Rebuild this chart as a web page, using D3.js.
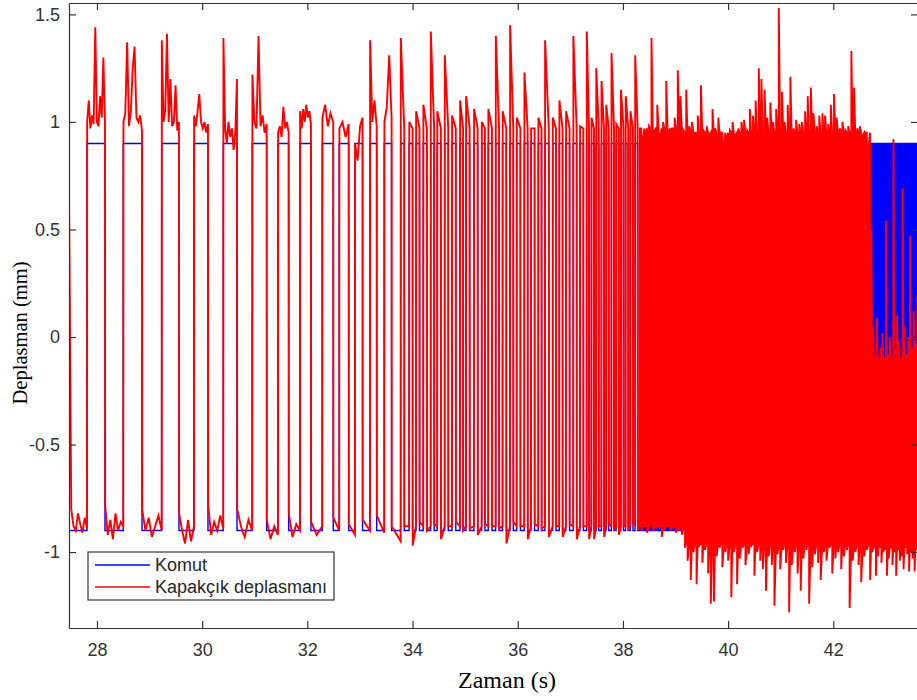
<!DOCTYPE html>
<html>
<head>
<meta charset="utf-8">
<script src="https://cdn.jsdelivr.net/npm/d3@7"></script>
<style>
body { margin: 0; background: #fff; }
</style>
</head>
<body>
<svg width="917" height="700"></svg>
<script>
// eksen araliklari ve tikler
let zamanAralik = [27.468, 43.61]
let deplasmanAralik = [-1.353, 1.553]
let xTikler = [28, 30, 32, 34, 36, 38, 40, 42]
let yTikler = [-1, -0.5, 0, 0.5, 1, 1.5]
let seriAdlari = ['Komut', 'Kapakçık deplasmanı']

// komut: -0.9 / 0.9 arasinda kare dalga
let komutSeviye = [-0.9, 0.9]
let yukselme = [
  27.810, 28.500, 29.230, 29.844, 30.401, 30.952, 31.441, 31.859, 32.283, 32.606, 32.905, 33.190, 33.462,
  33.774, 33.935, 34.065, 34.203, 34.344, 34.468, 34.610, 34.749, 34.901, 35.015, 35.167, 35.314, 35.439,
  35.580, 35.711, 35.852, 35.979, 36.124, 36.251, 36.390, 36.517, 36.664, 36.789, 36.916, 37.055, 37.183, 37.310,
  37.40, 37.49, 37.59, 37.68, 37.78, 37.87, 37.96, 38.05, 38.14, 38.23,
  38.32, 38.38, 38.43, 38.49, 38.54, 38.60, 38.65, 38.71, 38.76, 38.82, 38.87, 38.93, 38.98, 39.04, 39.09, 39.15,
  39.20, 39.26, 39.31, 39.37, 39.42, 39.48, 39.53, 39.59, 39.64, 39.70, 39.75, 39.81, 39.86, 39.92, 39.97, 40.03,
  40.08, 40.14, 40.19, 40.25, 40.30, 40.36, 40.41, 40.47, 40.52, 40.58, 40.63, 40.69, 40.74, 40.80, 40.85, 40.91,
  40.96, 41.02, 41.07, 41.13, 41.18, 41.24, 41.29, 41.35, 41.40, 41.46, 41.51, 41.57, 41.62, 41.68, 41.73, 41.79,
  41.84, 41.90, 41.95, 42.01, 42.06, 42.12, 42.17, 42.23, 42.28, 42.34, 42.39, 42.45, 42.50, 42.56, 42.61, 42.67,
  42.72, 42.755, 42.79, 42.825, 42.86, 42.895, 42.93, 42.965, 43.00, 43.035, 43.07, 43.105, 43.14, 43.175,
  43.21, 43.245, 43.28, 43.315, 43.35, 43.385, 43.42, 43.455, 43.49, 43.525, 43.56, 43.595
]
let dusme = [
  28.152, 28.856, 29.559, 30.110, 30.662, 31.226, 31.644, 32.068, 32.492, 32.785, 33.049, 33.318, 33.601,
  33.842, 34.000, 34.132, 34.272, 34.410, 34.538, 34.679, 34.822, 34.960, 35.085, 35.238, 35.376, 35.510,
  35.645, 35.782, 35.915, 36.050, 36.188, 36.320, 36.452, 36.590, 36.727, 36.852, 36.985, 37.120, 37.247, 37.355,
  37.45, 37.54, 37.64, 37.73, 37.83, 37.92, 38.01, 38.10, 38.19, 38.28,
  38.347, 38.407, 38.457, 38.517, 38.567, 38.627, 38.677, 38.737, 38.787, 38.847, 38.897, 38.957, 39.007, 39.067, 39.117, 39.177,
  39.227, 39.287, 39.337, 39.397, 39.447, 39.507, 39.557, 39.617, 39.667, 39.727, 39.777, 39.837, 39.887, 39.947, 39.997, 40.057,
  40.107, 40.167, 40.217, 40.277, 40.327, 40.387, 40.437, 40.497, 40.547, 40.607, 40.657, 40.717, 40.767, 40.827, 40.877, 40.937,
  40.987, 41.047, 41.097, 41.157, 41.207, 41.267, 41.317, 41.377, 41.427, 41.487, 41.537, 41.597, 41.647, 41.707, 41.757, 41.817,
  41.867, 41.927, 41.977, 42.037, 42.087, 42.147, 42.197, 42.257, 42.307, 42.367, 42.417, 42.477, 42.527, 42.587, 42.637, 42.697,
  42.737, 42.772, 42.807, 42.842, 42.877, 42.912, 42.947, 42.982, 43.017, 43.052, 43.087, 43.122, 43.157, 43.192,
  43.227, 43.262, 43.297, 43.332, 43.367, 43.402, 43.437, 43.472, 43.507, 43.542, 43.577, 43.612
]

// kapakcik: ilk 13 darbenin ust ve alt dalgalanmalari
let erkenTepe = [
  [1.0, 1.1, 0.97, 1.03, 0.99, 1.44, 1.0, 0.98, 1.12, 1.02, 1.3, 1.0],
  [1.0, 1.04, 1.37, 0.98, 1.05, 1.25, 1.35, 1.02, 1.0, 1.03, 0.96],
  [1.38, 1.0, 1.05, 1.41, 1.0, 1.2, 0.98, 1.0, 1.17, 0.96, 1.0],
  [1.03, 0.98, 1.05, 1.13, 1.0, 0.97, 1.0, 0.95, 0.99],
  [1.39, 0.97, 0.9, 1.0, 0.93, 0.97, 0.87, 0.95, 1.2],
  [1.22, 1.0, 0.97, 1.4, 0.98, 1.03, 0.95, 0.99],
  [0.95, 0.98, 0.93, 1.07, 0.97, 1.0, 0.95],
  [1.05, 0.97, 1.06, 1.0, 1.08, 1.02, 1.05, 0.99],
  [1.02, 1.08, 0.98, 1.04, 1.0],
  [0.97, 1.0, 0.93, 0.99],
  [0.9, 0.82, 0.98, 1.02],
  [1.38, 1.0, 1.1, 0.98],
  [1.0, 1.07, 1.31, 1.02]
]
let erkenDip = [
  [0.68, -0.8, -0.88, -0.9, -0.82, -0.87, -0.91, -0.84, -0.89],
  [-0.78, -0.92, -0.85, -0.94, -0.82, -0.9, -0.86, -0.88],
  [-0.8, -0.9, -0.84, -0.93, -0.88, -0.83, -0.9],
  [-0.82, -0.9, -0.96, -0.85, -0.95, -0.88],
  [-0.78, -0.92, -0.86, -0.9, -0.83, -0.89],
  [-0.8, -0.88, -0.93, -0.85, -0.9],
  [-0.85, -0.94, -0.88, -0.92],
  [-0.82, -0.93, -0.87, -0.9],
  [-0.86, -0.92, -0.88],
  [-0.84, -0.9],
  [-0.87, -0.92],
  [-0.85, -0.9],
  [-0.83, -0.91],
  [-0.88, -0.95]
]

// sik darbeler: her darbe icin tepe ve sonraki dip
let yogunTepe = [
  1.39, 1.0, 1.05, 1.08, 1.42, 1.05, 1.31, 1.03, 1.10, 1.12, 1.06, 1.0, 1.06, 1.40, 1.05, 1.45, 1.02, 1.23,
  0.97, 1.02, 1.38, 1.02, 1.10, 1.05, 1.40, 0.98, 1.42,
  1.02, 1.25, 1.19, 1.08, 1.32, 0.99, 1.15, 1.12, 1.05, 1.31,
  0.97, 0.93, 0.95, 0.98, 1.39, 0.96, 1.08, 0.94, 1.0, 1.19, 0.95, 0.97, 1.02, 1.24, 1.12, 0.96,
  1.15, 0.98, 1.0, 0.95, 1.03, 1.17, 0.96, 0.98, 0.94, 1.06, 0.97, 1.02, 0.95, 0.9, 0.92, 0.96,
  1.0, 0.94, 0.97, 1.0, 1.01, 0.96, 1.06, 1.03, 1.1, 1.25, 1.2, 1.15, 1.02, 1.09, 1.0, 1.06,
  1.53, 1.14, 1.0, 1.08, 1.21, 0.97, 1.01, 0.99, 1.0, 1.05, 1.12, 1.16, 1.04, 0.98, 1.03, 1.04,
  1.03, 0.99, 1.08, 1.13, 1.02, 0.97, 1.0, 0.96, 0.98, 1.33, 1.16, 0.97, 0.98, 0.94, 0.95, 0.89,
  0.5, 0.05, -0.12, 0.09, -0.14, -0.05, 0.02, -0.1, 0.54, -0.08, 0.0, -0.12, 0.92, -0.06, 0.1,
  -0.02, -0.1, 0.69, 0.05, -0.08, 0.0, 0.47, -0.05, 0.12, -0.03, 0.2
]
let yogunDip = [
  -0.88, -0.97, -0.86, -0.9, -0.87, -0.94, -0.88, -0.86, -0.9, -0.89, -0.92, -0.87, -0.88, -0.89, -0.96,
  -0.86, -0.88, -0.94, -0.87, -0.89, -0.93, -0.88, -0.93, -0.87, -0.94, -0.88, -0.94,
  -0.94, -0.88, -0.93, -0.87, -0.9, -0.92, -0.88, -0.9, -0.86, -0.89,
  -0.9, -0.88, -0.91, -0.87, -0.9, -0.89, -0.88, -0.93, -0.9, -0.88, -0.9, -0.89, -0.91, -0.9, -0.92, -0.98,
  -1.04, -1.13, -1.0, -1.15, -0.97, -1.05, -0.99, -1.1, -1.24, -1.23, -1.02, -0.98, -1.07, -1.0, -1.04, -1.21,
  -1.0, -1.15, -1.03, -0.98, -1.06, -1.01, -0.97, -1.11, -1.0, -1.04, -1.08, -1.18, -1.02, -1.06, -1.25, -1.01,
  -1.08, -0.99, -1.05, -1.28, -1.06, -1.0, -1.1, -1.18, -1.03, -0.99, -1.24, -1.07, -1.01, -1.05, -1.13, -1.0,
  -1.04, -0.98, -1.1, -1.03, -1.0, -1.08, -1.02, -0.99, -1.26, -1.04, -1.0, -1.06, -1.14, -1.02, -0.99, -1.13,
  -1.0, -0.98, -1.11, -1.02, -0.97, -1.05, -1.0, -0.99, -1.11, -1.03, -0.98, -1.06, -1.0, -1.11, -0.99,
  -1.04, -1.02, -1.08, -0.97, -1.01, -1.09, -1.0, -1.03, -1.09, -0.99, -1.02
]
// darbeler arasinda oturma seviyeleri (bolge sinirlari: 39.1 s ve 42.71 s)
let oturmaSinir = [39.1, 42.71]
let oturmaUst = [0.97, 0.95, -0.1]
let oturmaAlt = [-0.88, -0.96, -0.98]
let gecikme = 0.003

let svg = d3.select('svg')
let sol = 69, sag = 918, ust = 3, alt = 628

let xScale = d3.scaleLinear().domain(zamanAralik).range([sol, sag])
let yScale = d3.scaleLinear().domain(deplasmanAralik).range([alt, ust])

svg.append('defs').append('clipPath').attr('id', 'alan')
  .append('rect').attr('x', sol).attr('y', ust).attr('width', sag - sol).attr('height', alt - ust)

// komut cizgisi
let maviNoktalar = [[zamanAralik[0], komutSeviye[0]]]
yukselme.forEach((r, i) => {
  maviNoktalar.push([r, komutSeviye[0]], [r, komutSeviye[1]], [dusme[i], komutSeviye[1]], [dusme[i], komutSeviye[0]])
})
maviNoktalar.push([zamanAralik[1], komutSeviye[0]])

// kapakcik cizgisi
let kirmiziNoktalar = []
let yerlestir = (degerler, a, b) => {
  let n = degerler.length
  degerler.forEach((v, j) => {
    let t = n === 1 ? a : a + (b - a) * j / (n - 1)
    kirmiziNoktalar.push([t, v])
  })
}
let erkenSayi = erkenTepe.length
yerlestir(erkenDip[0], zamanAralik[0], yukselme[0])
for (let i = 0; i < yukselme.length; i++) {
  let r = yukselme[i], f = dusme[i]
  let sonraki = i + 1 < yukselme.length ? yukselme[i + 1] : zamanAralik[1]
  if (i < erkenSayi) {
    yerlestir(erkenTepe[i], r + gecikme, f)
    yerlestir(erkenDip[i + 1], f + gecikme, sonraki)
  } else {
    let k = i - erkenSayi
    let s = d3.bisectRight(oturmaSinir, r)
    kirmiziNoktalar.push([r + gecikme, yogunTepe[k]])
    kirmiziNoktalar.push([f, oturmaUst[s]])
    kirmiziNoktalar.push([f + gecikme, yogunDip[k]])
    kirmiziNoktalar.push([sonraki, oturmaAlt[s]])
  }
}

let cizgi = d3.line().x(d => xScale(d[0])).y(d => yScale(d[1]))
let veri = svg.append('g').attr('clip-path', 'url(#alan)')
veri.append('path').attr('d', cizgi(maviNoktalar))
  .attr('fill', 'none').attr('stroke', '#0000ff').attr('stroke-width', 1.4)
veri.append('path').attr('d', cizgi(kirmiziNoktalar))
  .attr('fill', 'none').attr('stroke', '#ff0000').attr('stroke-width', 1.9)

// eksenler
let eksenStil = g => {
  g.selectAll('path, line').attr('stroke', '#333').attr('stroke-width', 1.2)
  g.selectAll('text').attr('fill', '#333').style('font-family', '"Liberation Sans", Arial, sans-serif').style('font-size', '18px')
}
svg.append('g').attr('transform', 'translate(0,' + alt + ')')
  .call(d3.axisBottom(xScale).tickValues(xTikler).tickSizeInner(-7).tickSizeOuter(0).tickPadding(15).tickFormat(d => String(d)))
  .call(eksenStil)
svg.append('g').attr('transform', 'translate(0,' + ust + ')')
  .call(d3.axisTop(xScale).tickValues(xTikler).tickSizeInner(-7).tickSizeOuter(0).tickFormat(''))
  .call(eksenStil)
svg.append('g').attr('transform', 'translate(' + sol + ',0)')
  .call(d3.axisLeft(yScale).tickValues(yTikler).tickSizeInner(-7).tickSizeOuter(0).tickPadding(9).tickFormat(d => String(d)))
  .call(eksenStil)
svg.append('g').attr('transform', 'translate(' + sag + ',0)')
  .call(d3.axisRight(yScale).tickValues(yTikler).tickSizeInner(-7).tickSizeOuter(0).tickFormat(''))
  .call(eksenStil)

// eksen basliklari
svg.append('text').attr('x', 507).attr('y', 688).attr('text-anchor', 'middle')
  .style('font-family', '"Liberation Serif", "Times New Roman", serif').style('font-size', '24px')
  .attr('fill', '#000').text('Zaman (s)')
svg.append('text').attr('transform', 'translate(27,333) rotate(-90)').attr('text-anchor', 'middle')
  .style('font-family', '"Liberation Serif", "Times New Roman", serif').style('font-size', '20.5px')
  .attr('fill', '#000').text('Deplasman (mm)')

// lejant
let lejant = svg.append('g')
lejant.append('rect').attr('x', 88).attr('y', 552).attr('width', 246).attr('height', 48)
  .attr('fill', '#fff').attr('stroke', '#333').attr('stroke-width', 1.2)
let renkler = ['#0000ff', '#ff0000']
seriAdlari.forEach((ad, i) => {
  let y = 565 + i * 22
  lejant.append('line').attr('x1', 95).attr('x2', 150).attr('y1', y).attr('y2', y)
    .attr('stroke', renkler[i]).attr('stroke-width', 1.3)
  lejant.append('text').attr('x', 155).attr('y', y).attr('dy', '0.35em')
    .style('font-family', '"Liberation Sans", Arial, sans-serif').style('font-size', '18px')
    .attr('fill', '#262626').text(ad)
})
</script>
</body>
</html>
